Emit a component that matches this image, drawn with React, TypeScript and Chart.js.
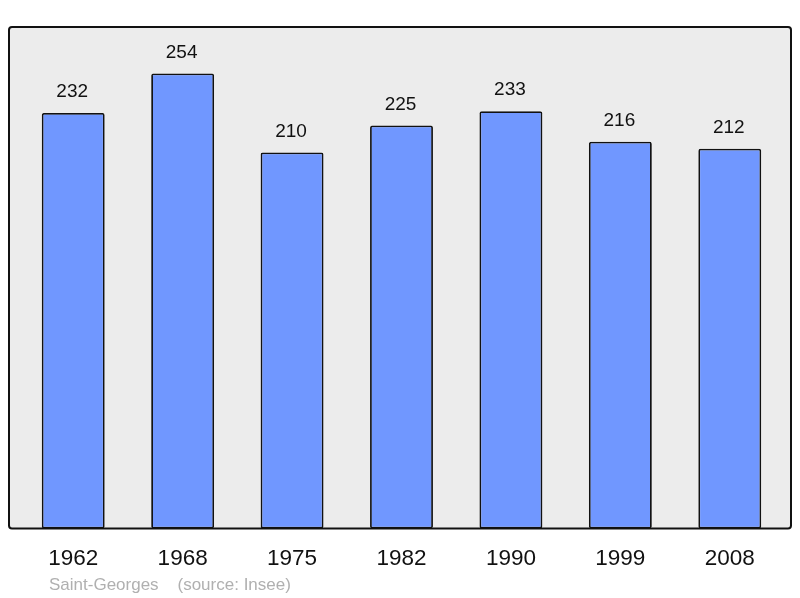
import React, { useEffect, useRef } from "react";
import { Chart, registerables } from "chart.js";

Chart.register(...registerables);

const years = ["1962", "1968", "1975", "1982", "1990", "1999", "2008"];
const population = [232, 254, 210, 225, 233, 216, 212];
const footerText = "Saint-Georges    (source: Insee)";

const FONT = "'Liberation Sans', Arial, sans-serif";

const boxPlugin = {
  id: "box",
  beforeDatasetsDraw(chart: any) {
    const { ctx, chartArea } = chart;
    const l = chartArea.left - 9.5;
    const r = chartArea.right + 6.5;
    ctx.save();
    ctx.fillStyle = "#ececec";
    ctx.beginPath();
    ctx.roundRect(l, chartArea.top, r - l, chartArea.bottom - chartArea.top, 3);
    ctx.fill();
    ctx.restore();
  },
  afterDatasetsDraw(chart: any) {
    const { ctx, chartArea } = chart;
    const l = chartArea.left - 9.5;
    const r = chartArea.right + 6.5;
    ctx.save();
    ctx.strokeStyle = "#111";
    ctx.lineWidth = 2;
    ctx.beginPath();
    ctx.roundRect(l, chartArea.top, r - l, chartArea.bottom - chartArea.top, 3);
    ctx.stroke();
    // value labels
    const meta = chart.getDatasetMeta(0);
    ctx.fillStyle = "#111";
    ctx.font = `19px ${FONT}`;
    ctx.textAlign = "center";
    ctx.textBaseline = "middle";
    meta.data.forEach((el: any, i: number) => {
      ctx.fillText(String(chart.data.datasets[0].data[i]), el.x - 1, el.y - 21);
    });
    // footer
    ctx.fillStyle = "#b0b0b0";
    ctx.font = `17px ${FONT}`;
    ctx.textAlign = "left";
    ctx.fillText(footerText, 49, 585);
    ctx.restore();
  },
};

export default function App() {
  const ref = useRef<HTMLCanvasElement>(null);
  useEffect(() => {
    document.body.style.margin = "0";
    const chart = new Chart(ref.current!, {
      type: "bar",
      data: {
        labels: years,
        datasets: [
          {
            data: population,
            backgroundColor: "#7097ff",
            borderColor: "#111",
            borderWidth: 1.8,
            borderRadius: 2,
            borderSkipped: false,
            categoryPercentage: 1,
            barPercentage: 0.575,
          },
        ],
      },
      options: {
        animation: false,
        responsive: false,
        layout: { padding: { top: 27, bottom: 8.5, left: 18.5, right: 15.5 } },
        plugins: { legend: { display: false }, tooltip: { enabled: false } },
        scales: {
          x: {
            grid: { display: false, drawTicks: false },
            border: { display: false },
            ticks: { color: "#111", font: { size: 22.5, family: FONT }, padding: 17 },
          },
          y: { display: false, min: 0, max: 280 },
        },
      },
      plugins: [boxPlugin],
    });
    return () => chart.destroy();
  }, []);
  return <canvas ref={ref} width={800} height={598} style={{ display: "block" }} />;
}
